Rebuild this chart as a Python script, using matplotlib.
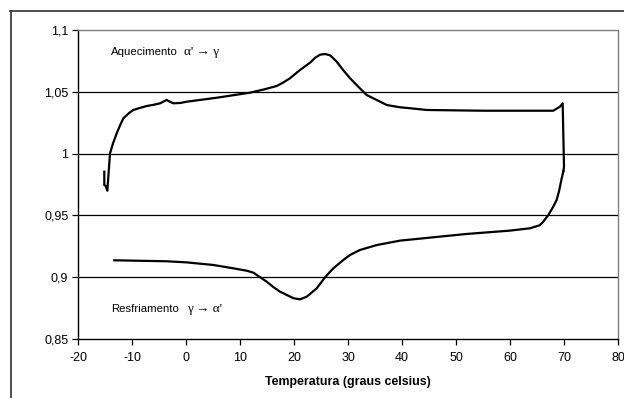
import matplotlib
matplotlib.use("Agg")
import matplotlib.pyplot as plt
from matplotlib.lines import Line2D
from matplotlib.ticker import FuncFormatter

plt.rcParams['font.family'] = ['Liberation Sans', 'DejaVu Sans']

# Heating branch (alpha' -> gamma)
heat_t = [-15.13, -15.13, -14.9, -14.57, -14.07, -13.5, -12.83, -12.2, -11.6, -10.5,
          -9.76, -8.5, -7.28, -6.0, -4.8, -3.58, -3.0, -2.35, -1.0, 0.13,
          5.68, 11.85, 14.5, 16.8, 18.0, 19.26, 21.1, 22.96, 23.9, 24.8,
          25.74, 26.7, 27.9, 29.1, 30.37, 32.2, 33.46, 35.3, 37.2, 39.6,
          41.5, 44.6, 55.0, 68.0, 69.26, 69.75, 70.0, 69.9]
heat_v = [0.9854, 0.9746, 0.9740, 0.970, 1.0002, 1.0085, 1.0164, 1.0230, 1.0286, 1.0330,
          1.0353, 1.0370, 1.0385, 1.0395, 1.0407, 1.0434, 1.0420, 1.0407, 1.0410, 1.0420,
          1.0452, 1.0493, 1.0520, 1.0547, 1.0575, 1.0610, 1.0676, 1.0735, 1.0775, 1.0800,
          1.0806, 1.0795, 1.0744, 1.0676, 1.0610, 1.0528, 1.0474, 1.0434, 1.0393, 1.0375,
          1.0367, 1.0353, 1.0347, 1.0347, 1.0380, 1.0407, 0.9894, 0.9860]

# Cooling branch (gamma -> alpha')
cool_t = [69.9, 69.57, 69.1, 68.64, 68.0, 67.1, 66.17, 65.5, 63.7, 60.0,
          51.98, 45.8, 39.63, 35.3, 32.2, 30.37, 29.13, 27.28, 25.74, 24.2,
          22.35, 21.1, 19.9, 17.4, 16.2, 14.94, 12.47, 11.2, 8.77, 5.06,
          0.13, -3.58, -9.76, -13.28]
cool_v = [0.9860, 0.9800, 0.9700, 0.9625, 0.9570, 0.9503, 0.9450, 0.9420, 0.9396, 0.9377,
          0.9350, 0.9323, 0.9296, 0.9260, 0.9220, 0.9180, 0.9139, 0.9072, 0.8999, 0.8910,
          0.8842, 0.8821, 0.8830, 0.8883, 0.8920, 0.8964, 0.9037, 0.9053, 0.9072, 0.9099,
          0.9120, 0.9129, 0.9134, 0.9137]

x_ticks = [-20, -10, 0, 10, 20, 30, 40, 50, 60, 70, 80]
y_ticks = [0.85, 0.9, 0.95, 1.0, 1.05, 1.1]

fig = plt.figure(figsize=(6.24, 3.98), dpi=100)
ax = fig.add_axes([0.125, 0.1482, 0.8654, 0.7764])

ax.plot(heat_t, heat_v, color='black', lw=1.6, solid_joinstyle='round')
ax.plot(cool_t, cool_v, color='black', lw=1.6, solid_joinstyle='round')

ax.set_xlim(-20, 80)
ax.set_ylim(0.85, 1.1)
ax.set_xticks(x_ticks)
ax.set_yticks(y_ticks)

def comma_fmt(v, pos):
    s = f"{v:.2f}".rstrip('0').rstrip('.')
    return s.replace('.', ',')

ax.yaxis.set_major_formatter(FuncFormatter(comma_fmt))
ax.xaxis.set_major_formatter(FuncFormatter(lambda v, p: f"{int(v)}"))

for y in y_ticks[1:-1]:
    ax.axhline(y, color='black', lw=0.9, zorder=0)

ax.tick_params(axis='both', direction='out', length=4, width=0.9, labelsize=9,
               colors='black')
ax.tick_params(axis='x', pad=5)
ax.tick_params(axis='y', pad=3)

ax.spines['left'].set_color('black')
ax.spines['bottom'].set_color('black')
ax.spines['left'].set_linewidth(1.0)
ax.spines['bottom'].set_linewidth(1.0)
ax.spines['top'].set_color('#808080')
ax.spines['right'].set_color('#808080')
ax.spines['top'].set_linewidth(1.0)
ax.spines['right'].set_linewidth(1.0)

ax.set_xlabel('Temperatura (graus celsius)', fontsize=8.9, fontweight='bold', labelpad=9)

# Annotations for each branch
ax.text(-13.9, 1.0822, 'Aquecimento', fontsize=8.2, va='center', ha='left')
ax.text(-0.4, 1.0822, "α' → γ", fontsize=9.5, va='center', ha='left',
        family=['Liberation Serif', 'DejaVu Serif'])
ax.text(-13.9, 0.8743, 'Resfriamento', fontsize=8.2, va='center', ha='left')
ax.text(0.2, 0.8743, "γ → α'", fontsize=9.5, va='center', ha='left',
        family=['Liberation Serif', 'DejaVu Serif'])

# Chart frame
fig.add_artist(Line2D([10 / 624, 1.0], [1 - 10.5 / 398, 1 - 10.5 / 398],
                      color='#303030', lw=1.2, transform=fig.transFigure))
fig.add_artist(Line2D([11 / 624, 11 / 624], [0, 1 - 10.5 / 398],
                      color='#303030', lw=1.2, transform=fig.transFigure))

fig.savefig('out.png', dpi=100)
